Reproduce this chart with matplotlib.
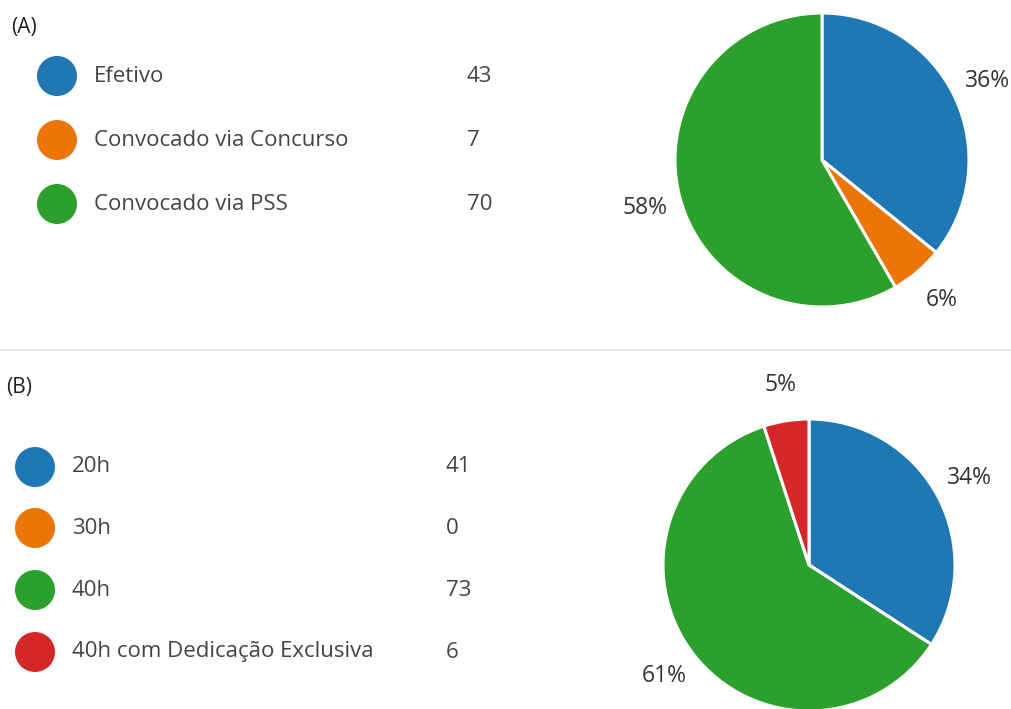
#!/usr/bin/env python3

from matplotlib import pyplot as pl

# panel (A)
labels_a = ['Efetivo', 'Convocado via Concurso', 'Convocado via PSS']
counts_a = [43, 7, 70]
colors_a = ['#1f77b4', '#ec7508', '#2ca02c']

# panel (B)
labels_b = ['20h', '30h', '40h', '40h com Dedicação Exclusiva']
counts_b = [41, 0, 73, 6]
colors_b = ['#1f77b4', '#ec7508', '#2ca02c', '#d62728']

pl.rcParams['font.family'] = ['Open Sans', 'DejaVu Sans']

W, H = 1012, 709
fig = pl.figure(figsize=(W / 100, H / 100), dpi=100)

# background axes in pixel coordinates
bg = fig.add_axes([0, 0, 1, 1])
bg.set_xlim(0, W)
bg.set_ylim(H, 0)
bg.axis('off')

bg.plot([0, W], [350, 350], color='#e4e4e4', lw=1.2)


def legend(title, title_xy, labels, counts, colors, cx, tx, vx, ys):
    bg.text(title_xy[0], title_xy[1], title, fontsize=15, color='#222222',
            va='center', ha='left')
    for lab, n, c, y in zip(labels, counts, colors, ys):
        bg.scatter(cx, y, s=830, color=c, edgecolors='none')
        bg.text(tx, y, lab, fontsize=16, color='#444444', va='center')
        bg.text(vx, y, str(n), fontsize=16, color='#444444', va='center')


legend('(A)', (11, 28), labels_a, counts_a, colors_a,
       57, 94, 467, [76, 140, 204])
legend('(B)', (6, 388), labels_b, counts_b, colors_b,
       35, 72, 446, [467, 528, 590, 652])


def pie(cx, cy, r, counts, colors):
    ax = fig.add_axes([(cx - r) / W, (H - cy - r) / H, 2 * r / W, 2 * r / H])
    ax.pie(counts, colors=colors, startangle=90, counterclock=False,
           wedgeprops=dict(edgecolor='white', linewidth=2.2),
           autopct=lambda p: '%d%%' % round(p) if p > 0 else '',
           pctdistance=1.25,
           textprops=dict(fontsize=16.5, color='#333333', clip_on=False))
    ax.set_xlim(-1, 1)
    ax.set_ylim(-1, 1)
    ax.set_aspect('equal')


pie(822, 160, 147, counts_a, colors_a)
pie(809, 565, 146, counts_b, colors_b)

fig.savefig('out.png', dpi=100)
